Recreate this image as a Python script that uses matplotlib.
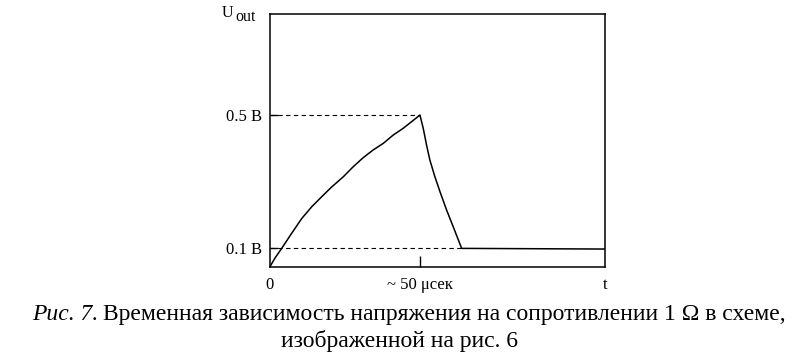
import numpy as np
import matplotlib.pyplot as plt

plt.rcParams['font.family'] = ['Liberation Serif', 'DejaVu Serif']

# curve: t in microseconds, U in volts
t_rise = [0, 1.67, 3.9, 7.2, 10.6, 13.9, 17.2, 20.6, 24.4, 27.8, 31.1, 34.4, 37.8, 41.1, 44.4, 50]
u_rise = [0.044, 0.070, 0.099, 0.144, 0.189, 0.224, 0.254, 0.284, 0.314, 0.345, 0.372,
          0.395, 0.415, 0.440, 0.460, 0.5]
t_fall = [50, 51.1, 52.2, 53.3, 55, 56.7, 58.9, 61.1, 63.9]
u_fall = [0.5, 0.460, 0.410, 0.365, 0.314, 0.269, 0.214, 0.164, 0.099]
t_flat = [63.9, 111.7]
u_flat = [0.099, 0.097]

t_peak = 50
t_end_drop = 63.9
levels = [0.1, 0.5]
level_labels = ['0.1 B', '0.5 B']
xtick_pos = [0, 50, 111.7]
xtick_labels = ['0', '~ 50 μсек', 't']

fig = plt.figure(figsize=[7.95, 3.56], dpi=100)
ax = fig.add_axes([0.3396, 0.25, 0.4214, 0.7107])

t = t_rise + t_fall[1:] + t_flat[1:]
u = u_rise + u_fall[1:] + u_flat[1:]
ax.plot(t, u, color='black', lw=1.1)

# dashed guides
ax.plot([0, t_peak], [0.5, 0.5], color='black', lw=0.8, ls=(0, (4, 3)))
ax.plot([0, t_end_drop], [0.1, 0.1], color='black', lw=0.8, ls=(0, (4, 3)))

ax.set_xlim(0, 111.7)
ax.set_ylim(0.043, 0.804)

ax.set_yticks(levels)
ax.set_yticklabels(level_labels, fontsize=12)
ax.set_xticks(xtick_pos)
ax.set_xticklabels(xtick_labels, fontsize=12)
ax.tick_params(axis='y', direction='in', length=6, width=1, pad=6)
ax.tick_params(axis='x', direction='in', length=8, width=1, pad=7)
xt = ax.xaxis.get_major_ticks()
xt[0].tick1line.set_visible(False)
xt[2].tick1line.set_visible(False)
for s in ax.spines.values():
    s.set_linewidth(1.1)

fig.text(0.279, 0.952, 'U', fontsize=11.5, ha='left', va='baseline')
fig.text(0.296, 0.941, 'out', fontsize=11.5, ha='left', va='baseline')

# caption: italic part followed by regular text
fs = 17
y1 = 0.101
cap1 = fig.text(0.040, y1, 'Рис. 7.', fontsize=fs, style='italic', ha='left', va='baseline')
fig.canvas.draw()
bb = cap1.get_window_extent()
x2 = (bb.x1 + 5) / fig.bbox.width
fig.text(x2, y1, 'Временная зависимость напряжения на сопротивлении 1 Ω в схеме,',
         fontsize=fs, ha='left', va='baseline')
fig.text(0.502, 0.025, 'изображенной на рис. 6', fontsize=fs, ha='center', va='baseline')

fig.savefig('out.png', dpi=100)
